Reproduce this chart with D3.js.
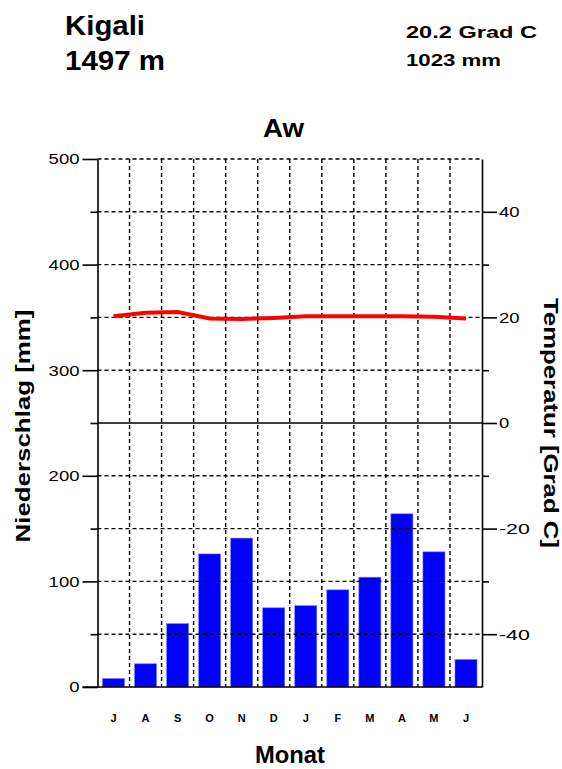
<!DOCTYPE html>
<html>
<head>
<meta charset="utf-8">
<script src="https://cdn.jsdelivr.net/npm/d3@7"></script>
<style>
  body { margin: 0; background: #fff; }
  text { font-family: "Liberation Sans", Arial, sans-serif; fill: #000; }
</style>
</head>
<body>
<div id="chart"></div>
<script>
const months = ['J', 'A', 'S', 'O', 'N', 'D', 'J', 'F', 'M', 'A', 'M', 'J'];
const precip = [8, 22, 60, 126, 141, 75, 77, 92, 104, 164, 128, 26];
const temp = [20.2, 20.9, 21.0, 19.8, 19.7, 19.9, 20.2, 20.2, 20.2, 20.2, 20.1, 19.8];
const mmTicks = [0, 100, 200, 300, 400, 500];
const mmMinor = [50, 150, 250, 350, 450];
const tempTicks = [-40, -20, 0, 20, 40];
const tempMinor = [-30, -10, 10, 30];

const width = 562, height = 769;
const plotL = 97.5, plotR = 482, plotT = 159, plotB = 687;

const svg = d3.select('#chart').append('svg')
  .attr('width', width)
  .attr('height', height);

const x = d3.scaleBand().domain(d3.range(12)).range([plotL, plotR])
  .paddingInner(0.3125).paddingOuter(0.156);
const y = d3.scaleLinear().domain([0, 500]).range([plotB, plotT]);
const yT = d3.scaleLinear().domain([-50, 50]).range([plotB, plotT]);
const cx = i => x(i) + x.bandwidth() / 2;

// header texts
function label(txt, px, py, size, len, weight) {
  return svg.append('text')
    .attr('x', px).attr('y', py)
    .attr('font-size', size)
    .attr('font-weight', weight || 'bold')
    .attr('textLength', len)
    .attr('lengthAdjust', 'spacingAndGlyphs')
    .text(txt);
}
label('Kigali', 65, 35, 28, 80);
label('1497 m', 65, 70, 28, 100);
label('20.2 Grad C', 406, 38, 17, 131);
label('1023 mm', 406, 66, 17, 95);
label('Aw', 263, 137, 26, 41);

// bars
svg.append('g').selectAll('rect')
  .data(precip)
  .join('rect')
  .attr('x', (d, i) => x(i))
  .attr('width', x.bandwidth())
  .attr('y', d => y(d))
  .attr('height', d => y(0) - y(d))
  .attr('fill', '#0000ff')
  .attr('stroke', '#7777ff')
  .attr('stroke-width', 0.6);

// dashed grid
const grid = svg.append('g')
  .attr('stroke', '#000')
  .attr('stroke-width', 1.4)
  .attr('stroke-dasharray', '4,3');
const bounds = d3.range(1, 12).map(i => x(i) - x.step() * x.paddingInner() / 2);
grid.selectAll('line.v')
  .data(bounds)
  .join('line')
  .attr('class', 'v')
  .attr('x1', d => d).attr('x2', d => d)
  .attr('y1', plotT).attr('y2', plotB);
grid.selectAll('line.h')
  .data(d3.range(50, 501, 50).filter(v => v !== 250))
  .join('line')
  .attr('class', 'h')
  .attr('x1', plotL).attr('x2', plotR)
  .attr('y1', d => y(d)).attr('y2', d => y(d));

// solid zero line of temperature
svg.append('line')
  .attr('x1', plotL).attr('x2', plotR)
  .attr('y1', yT(0)).attr('y2', yT(0))
  .attr('stroke', '#000').attr('stroke-width', 1.6);

// axes
const fmt = d => d < 0 ? '-' + Math.abs(d) : String(d);
function styleAxis(g) {
  g.selectAll('path, line').attr('stroke', '#000').attr('stroke-width', 1.6);
  g.selectAll('text')
    .attr('font-size', 15)
    .attr('textLength', d => fmt(d).length * 10.3)
    .attr('lengthAdjust', 'spacingAndGlyphs');
}

svg.append('g')
  .attr('transform', `translate(${plotL},0)`)
  .call(d3.axisLeft(y).tickValues(mmTicks).tickSize(15).tickSizeOuter(0).tickPadding(3).tickFormat(fmt))
  .call(styleAxis);
svg.append('g')
  .attr('transform', `translate(${plotL},0)`)
  .call(d3.axisLeft(y).tickValues(mmMinor).tickSize(7).tickFormat(''))
  .call(g => g.select('.domain').remove())
  .call(styleAxis);

svg.append('g')
  .attr('transform', `translate(${plotR},0)`)
  .call(d3.axisRight(yT).tickValues(tempTicks).tickSize(15).tickSizeOuter(0).tickPadding(2).tickFormat(fmt))
  .call(styleAxis);
svg.append('g')
  .attr('transform', `translate(${plotR},0)`)
  .call(d3.axisRight(yT).tickValues(tempMinor).tickSize(7).tickFormat(''))
  .call(g => g.select('.domain').remove())
  .call(styleAxis);

// bottom line
svg.append('line')
  .attr('x1', plotL - 15).attr('x2', plotR)
  .attr('y1', y(0)).attr('y2', y(0))
  .attr('stroke', '#000').attr('stroke-width', 1.6);

// month labels
svg.append('g')
  .attr('transform', `translate(0,${plotB})`)
  .call(d3.axisBottom(x).tickSize(0).tickPadding(27).tickFormat(i => months[i]))
  .call(g => g.select('.domain').remove())
  .call(g => g.selectAll('text').attr('font-size', 11).attr('font-weight', 'bold'));

// temperature line
svg.append('path')
  .datum(temp)
  .attr('d', d3.line().x((d, i) => cx(i)).y(d => yT(d)))
  .attr('fill', 'none')
  .attr('stroke', '#ff0000')
  .attr('stroke-width', 4);

// axis titles
svg.append('text')
  .attr('transform', 'translate(30,426) rotate(-90)')
  .attr('text-anchor', 'middle')
  .attr('font-size', 20).attr('font-weight', 'bold')
  .attr('textLength', 233).attr('lengthAdjust', 'spacingAndGlyphs')
  .text('Niederschlag [mm]');
svg.append('text')
  .attr('transform', 'translate(544,423) rotate(90)')
  .attr('text-anchor', 'middle')
  .attr('font-size', 20).attr('font-weight', 'bold')
  .attr('textLength', 250).attr('lengthAdjust', 'spacingAndGlyphs')
  .text('Temperatur [Grad C]');
svg.append('text')
  .attr('x', 290).attr('y', 763)
  .attr('text-anchor', 'middle')
  .attr('font-size', 23).attr('font-weight', 'bold')
  .attr('textLength', 70).attr('lengthAdjust', 'spacingAndGlyphs')
  .text('Monat');
</script>
</body>
</html>
